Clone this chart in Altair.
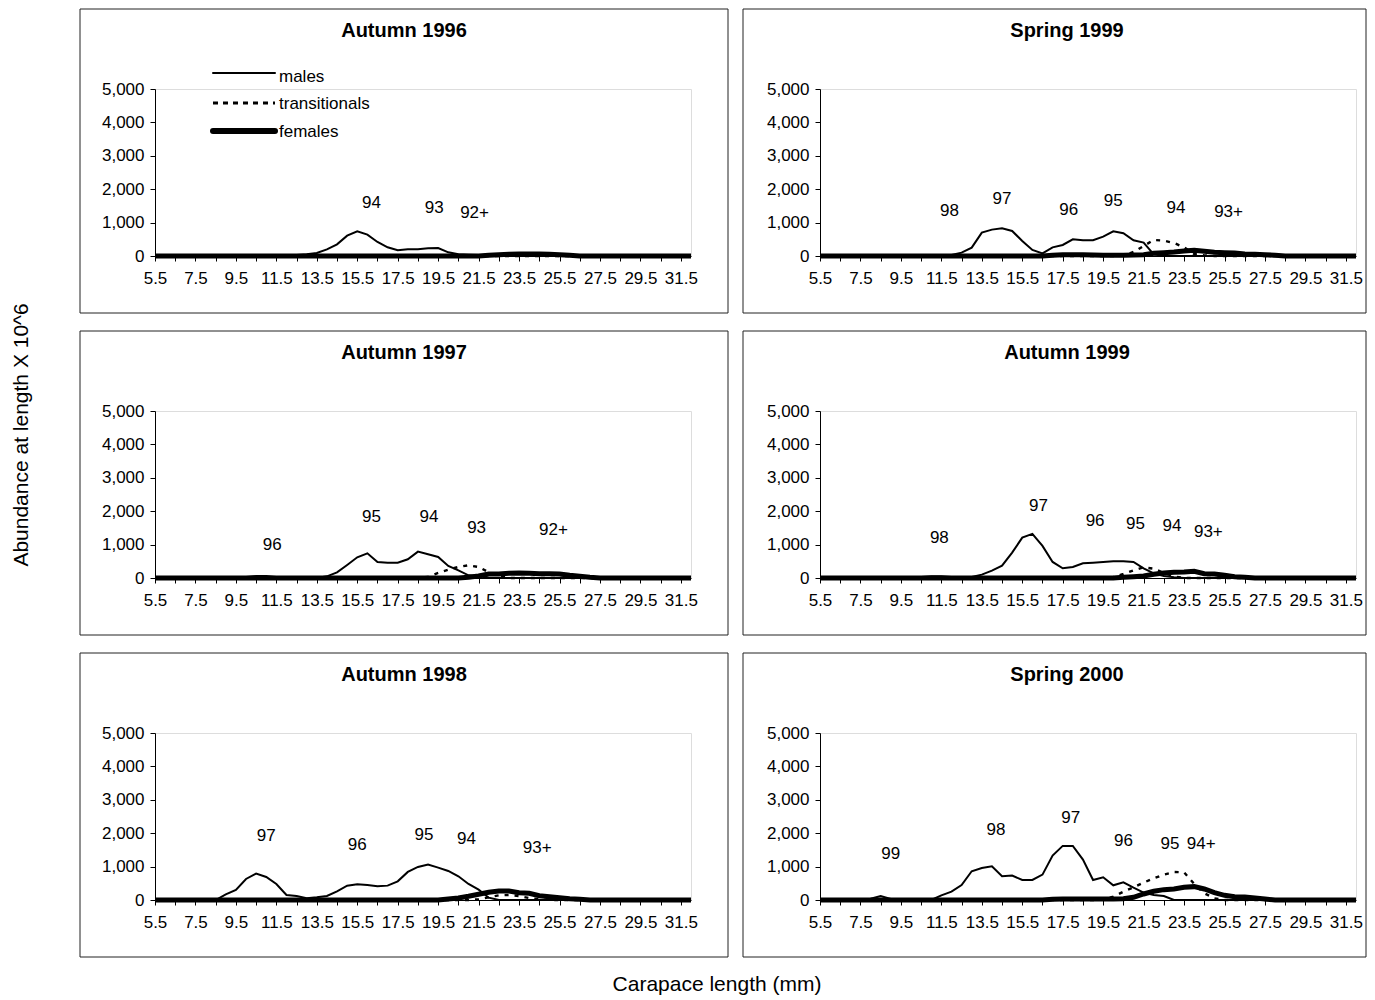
import altair as alt
import pandas as pd

FONT = "Liberation Sans"

# carapace length classes (mm), 0.5 mm bins
LENGTHS = [5.5, 6.0, 6.5, 7.0, 7.5, 8.0, 8.5, 9.0, 9.5, 10.0,
           10.5, 11.0, 11.5, 12.0, 12.5, 13.0, 13.5, 14.0, 14.5, 15.0,
           15.5, 16.0, 16.5, 17.0, 17.5, 18.0, 18.5, 19.0, 19.5, 20.0,
           20.5, 21.0, 21.5, 22.0, 22.5, 23.0, 23.5, 24.0, 24.5, 25.0,
           25.5, 26.0, 26.5, 27.0, 27.5, 28.0, 28.5, 29.0, 29.5, 30.0,
           30.5, 31.0, 31.5, 32.0]
X_TICKS = [5.5, 6.5, 7.5, 8.5, 9.5, 10.5, 11.5, 12.5, 13.5, 14.5, 15.5, 16.5, 17.5,
           18.5, 19.5, 20.5, 21.5, 22.5, 23.5, 24.5, 25.5, 26.5, 27.5, 28.5, 29.5,
           30.5, 31.5]
Y_TICKS = [0, 1000, 2000, 3000, 4000, 5000]

Z10 = [0, 0, 0, 0, 0, 0, 0, 0, 0, 0]
Z4 = [0, 0, 0, 0]

# ---- Autumn 1996 ----
A96_M = (Z10 + [0, 0, 0, 20, 30, 50, 90, 200, 350, 610]
         + [740, 640, 420, 260, 170, 200, 200, 230, 240, 110]
         + [50, 40, 30, 20, 0, 0, 0, 0, 0, 0] + Z10 + Z4)
A96_T = Z10 + Z10 + Z10 + Z10 + Z10 + Z4
A96_F = (Z10 + Z10 + Z10 + [0, 0, 0, 20, 40, 50, 60, 60, 60, 50]
         + [40, 20, 0, 0, 0, 0, 0, 0, 0, 0] + Z4)
A96_LAB = ["94", "93", "92+"]
A96_LX = [16.2, 19.3, 21.3]
A96_LY = [1580, 1430, 1280]

# ---- Spring 1999 ----
S99_M = (Z10 + [0, 0, 0, 30, 100, 250, 700, 790, 830, 750]
         + [450, 180, 80, 260, 330, 500, 470, 470, 580, 740]
         + [680, 470, 400, 50, 0, 0, 0, 0, 0, 0] + Z10 + Z4)
S99_T = (Z10 + Z10 + Z10 + [20, 120, 300, 480, 460, 390, 260, 60, 20, 0]
         + Z10 + Z4)
S99_F = (Z10 + Z10 + [0, 0, 0, 20, 40, 40, 40, 30, 20, 20]
         + [20, 30, 40, 80, 100, 120, 150, 170, 140, 110]
         + [100, 90, 60, 50, 40, 20, 0, 0, 0, 0] + Z4)
S99_LAB = ["98", "97", "96", "95", "94", "93+"]
S99_LX = [11.9, 14.5, 17.8, 20.0, 23.1, 25.7]
S99_LY = [1340, 1700, 1390, 1650, 1440, 1320]

# ---- Autumn 1997 ----
A97_M = ([0, 0, 0, 0, 0, 0, 0, 0, 0, 30]
         + [60, 60, 30, 0, 0, 0, 0, 50, 170, 390]
         + [620, 740, 480, 460, 460, 560, 790, 710, 630, 360]
         + [230, 80, 60, 0, 0, 0, 0, 0, 0, 0] + Z10 + Z4)
A97_T = (Z10 + Z10 + [0, 0, 0, 0, 0, 0, 0, 30, 150, 250]
         + [330, 380, 330, 170, 60, 0, 0, 0, 0, 0] + Z10 + Z4)
A97_F = (Z10 + Z10 + Z10 + [0, 20, 60, 120, 120, 140, 150, 140, 130, 130]
         + [120, 80, 50, 20, 0, 0, 0, 0, 0, 0] + Z4)
A97_LAB = ["96", "95", "94", "93", "92+"]
A97_LX = [11.3, 16.2, 19.05, 21.4, 25.2]
A97_LY = [1000, 1820, 1820, 1500, 1430]

# ---- Autumn 1999 ----
A99_M = (Z10 + [30, 50, 50, 30, 20, 30, 100, 220, 370, 760]
         + [1210, 1320, 960, 480, 290, 330, 440, 460, 480, 500]
         + [500, 480, 290, 140, 60, 20, 0, 0, 0, 0] + Z10 + Z4)
A99_T = (Z10 + Z10 + [0, 0, 0, 0, 0, 0, 0, 0, 0, 30]
         + [120, 230, 320, 280, 150, 50, 0, 0, 0, 0] + Z10 + Z4)
A99_F = (Z10 + Z10 + Z10 + [20, 40, 60, 110, 150, 170, 180, 200, 130, 120]
         + [80, 40, 20, 0, 0, 0, 0, 0, 0, 0] + Z4)
A99_LAB = ["98", "97", "96", "95", "94", "93+"]
A99_LX = [11.4, 16.3, 19.1, 21.1, 22.9, 24.7]
A99_LY = [1200, 2150, 1700, 1620, 1550, 1380]

# ---- Autumn 1998 ----
A98_M = ([0, 0, 0, 0, 0, 0, 0, 170, 300, 630]
         + [790, 690, 480, 150, 120, 50, 80, 120, 260, 430]
         + [470, 450, 410, 430, 560, 840, 990, 1060, 970, 870]
         + [710, 480, 310, 70, 0, 0, 0, 0, 0, 0] + Z10 + Z4)
A98_T = (Z10 + Z10 + Z10 + [0, 0, 20, 80, 140, 150, 120, 60, 20, 0]
         + Z10 + Z4)
A98_F = (Z10 + Z10 + [0, 0, 0, 0, 0, 0, 0, 0, 0, 30]
         + [60, 110, 170, 230, 270, 270, 220, 200, 130, 100]
         + [70, 40, 20, 0, 0, 0, 0, 0, 0, 0] + Z4)
A98_LAB = ["97", "96", "95", "94", "93+"]
A98_LX = [11.0, 15.5, 18.8, 20.9, 24.4]
A98_LY = [1910, 1650, 1960, 1840, 1550]

# ---- Spring 2000 ----
S00_M = ([0, 0, 0, 0, 0, 40, 120, 30, 0, 0]
         + [0, 0, 140, 250, 450, 860, 960, 1010, 710, 730]
         + [600, 600, 760, 1330, 1620, 1620, 1210, 600, 680, 440]
         + [530, 370, 220, 150, 120, 0, 0, 0, 0, 0] + Z10 + Z4)
S00_T = (Z10 + Z10 + [0, 0, 0, 0, 0, 0, 0, 0, 20, 100]
         + [250, 380, 520, 650, 760, 840, 830, 480, 200, 50] + Z10 + Z4)
S00_F = (Z10 + Z10 + [0, 0, 0, 20, 30, 30, 30, 30, 30, 30]
         + [40, 80, 180, 260, 310, 330, 380, 400, 330, 220]
         + [140, 100, 90, 60, 30, 0, 0, 0, 0, 0] + Z4)
S00_LAB = ["99", "98", "97", "96", "95", "94+"]
S00_LX = [9.0, 14.2, 17.9, 20.5, 22.8, 24.35]
S00_LY = [1380, 2110, 2470, 1760, 1690, 1690]

SERIES = ["males", "transitionals", "females"]

W, H = 536, 167
ONE = pd.DataFrame({"k": [0]})
TICK_FS = 17
TEXT_FS = 17

xscale = alt.Scale(domain=[5.5, 32.0], nice=False, zero=False)
yscale = alt.Scale(domain=[0, 5000], nice=False)
xaxis = alt.Axis(values=X_TICKS, title=None, grid=False, tickSize=5,
                 labelExpr="(datum.value - 5.5) % 2 == 0 ? format(datum.value, '.1f') : ''",
                 labelFlush=False, labelOverlap=False, labelPadding=9,
                 labelFontSize=TICK_FS, labelFont=FONT, labelColor="black",
                 domainColor="black", tickColor="black")
yaxis = alt.Axis(values=Y_TICKS, title=None, grid=False, tickSize=5, format=",d",
                 labelPadding=6, labelFontSize=TICK_FS, labelFont=FONT,
                 labelColor="black", domainColor="black", tickColor="black")


def panel(title, m, t, f, lab, lx, ly, left=True, legend=False, ytitle=False, xtitle=False):
    assert len(m) == len(t) == len(f) == len(LENGTHS)
    rows = []
    for name, vals in zip(SERIES, [m, t, f]):
        for x, v in zip(LENGTHS, vals):
            rows.append({"x": x, "v": v, "s": name})
    df = pd.DataFrame(rows)
    base = alt.Chart(df).encode(
        x=alt.X("x:Q", scale=xscale, axis=xaxis),
        y=alt.Y("v:Q", scale=yscale, axis=yaxis),
    )
    males = base.transform_filter(alt.datum.s == "males").mark_line(
        color="black", strokeWidth=2)
    trans = base.transform_filter(alt.datum.s == "transitionals").mark_line(
        color="black", strokeWidth=2.4, strokeDash=[4, 6])
    fem = base.transform_filter(alt.datum.s == "females").mark_line(
        color="black", strokeWidth=5)

    ldf = pd.DataFrame({"x": lx, "v": ly, "t": lab})
    labels = alt.Chart(ldf).mark_text(fontSize=TEXT_FS, font=FONT, color="black",
                                      align="center", baseline="middle").encode(
        x=alt.X("x:Q", scale=xscale, axis=xaxis),
        y=alt.Y("v:Q", scale=yscale, axis=yaxis),
        text="t:N",
    )

    x0, x1 = (-75, 573) if left else (-77, 546)
    frame = alt.Chart(ONE).mark_rect(fillOpacity=0, stroke="#222", strokeWidth=1).encode(
        x=alt.value(x0), x2=alt.value(x1), y=alt.value(-80), y2=alt.value(224))
    ttl = alt.Chart(ONE).mark_text(text=title, fontSize=20, fontWeight="bold", font=FONT,
                                   color="black", align="center", baseline="middle").encode(
        x=alt.value(249 if left else 247), y=alt.value(-58))

    layers = [frame, ttl, males, trans, fem, labels]

    if legend:
        specs = [("males", -16, -12, 2, None), ("transitionals", 14, 15, 2.8, [5, 5]),
                 ("females", 42, 43, 6, None)]
        for name, ry, ty, sw, dash in specs:
            kw = dict(color="black", strokeWidth=sw, strokeCap="butt" if dash else "round")
            if dash:
                kw["strokeDash"] = dash
            layers.append(alt.Chart(ONE).mark_rule(**kw).encode(
                x=alt.value(58), x2=alt.value(120), y=alt.value(ry)))
            layers.append(alt.Chart(ONE).mark_text(text=name, fontSize=TEXT_FS, font=FONT,
                                                   color="black", align="left",
                                                   baseline="middle").encode(
                x=alt.value(124), y=alt.value(ty)))
    if ytitle:
        layers.append(alt.Chart(ONE).mark_text(text="Abundance at length X 10^6", fontSize=21,
                                               font=FONT, color="black", angle=270,
                                               align="center", baseline="middle").encode(
            x=alt.value(-133), y=alt.value(24)))
    if xtitle:
        layers.append(alt.Chart(ONE).mark_text(text="Carapace length (mm)", fontSize=21,
                                               font=FONT, color="black",
                                               align="center", baseline="middle").encode(
            x=alt.value(562), y=alt.value(252)))
    return alt.layer(*layers).properties(width=W, height=H)


p1 = panel("Autumn 1996", A96_M, A96_T, A96_F, A96_LAB, A96_LX, A96_LY, left=True, legend=True)
p2 = panel("Spring 1999", S99_M, S99_T, S99_F, S99_LAB, S99_LX, S99_LY, left=False)
p3 = panel("Autumn 1997", A97_M, A97_T, A97_F, A97_LAB, A97_LX, A97_LY, left=True, ytitle=True)
p4 = panel("Autumn 1999", A99_M, A99_T, A99_F, A99_LAB, A99_LX, A99_LY, left=False)
p5 = panel("Autumn 1998", A98_M, A98_T, A98_F, A98_LAB, A98_LX, A98_LY, left=True, xtitle=True)
p6 = panel("Spring 2000", S00_M, S00_T, S00_F, S00_LAB, S00_LX, S00_LY, left=False)

chart = alt.concat(p1, p2, p3, p4, p5, p6, columns=2,
                   spacing={"row": 155, "column": 129}, bounds="flush").properties(
    padding={"left": 2, "top": 0, "right": 0, "bottom": 0}
).configure_view(stroke=None).configure(font=FONT)

chart.save("out.html", embed_options={"renderer": "svg", "actions": False})
